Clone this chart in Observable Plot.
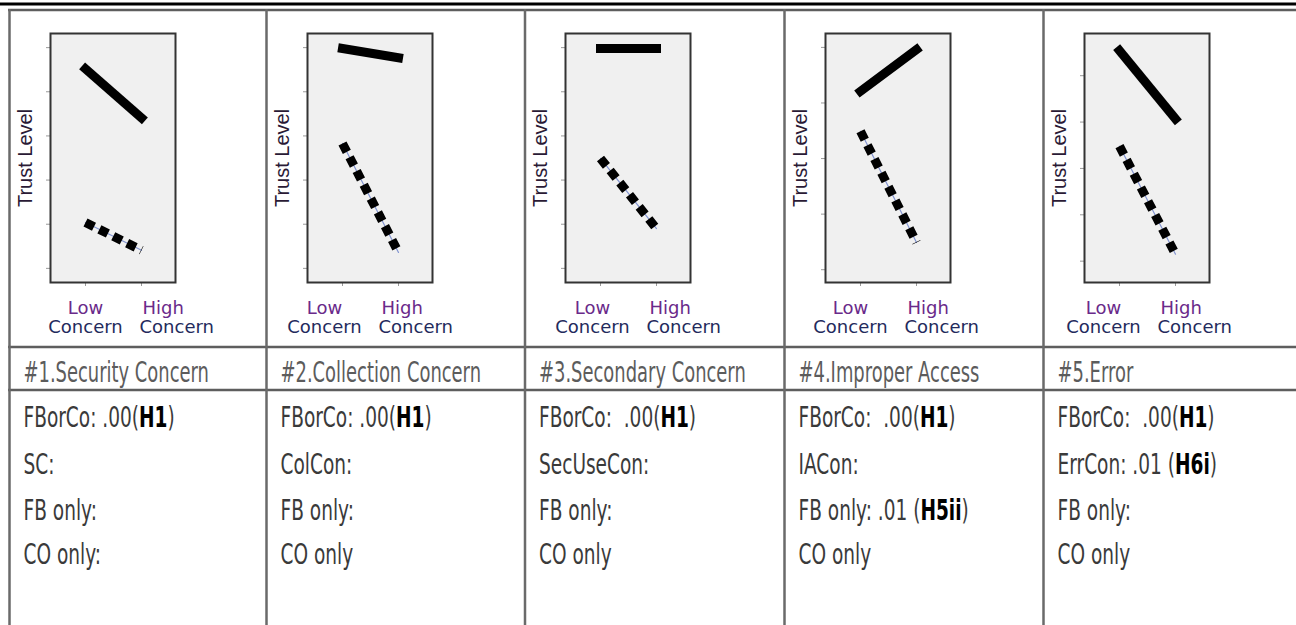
<!DOCTYPE html>
<html>
<head>
<meta charset="utf-8">
<script src="https://cdn.jsdelivr.net/npm/d3@7"></script>
<script src="https://cdn.jsdelivr.net/npm/@observablehq/plot@0.6"></script>
<style>
  body { margin: 0; background: #fff; }
  #wrap { position: relative; width: 1296px; height: 625px; overflow: hidden; background: #fff; }
  #wrap svg.panel { position: absolute; }
</style>
</head>
<body>
<div id="wrap"></div>
<script>
// ---------- data ----------
const concernLevels = ["Low", "High"];
const levelLabels = ["Low", "High"];
const levelSubLabel = "Concern";
const yLabel = "Trust Level";

const panelTitles = [
  "#1.Security Concern",
  "#2.Collection Concern",
  "#3.Secondary Concern",
  "#4.Improper Access",
  "#5.Error"
];

// trust level at Low / High concern (solid = upper line, dashed = lower line)
const solidLow   = [5.52, 5.98, 5.98, 4.21, 5.54];
const solidHigh  = [4.41, 5.77, 5.98, 4.96, 4.07];
const dashedLow  = [2.04, 3.83, 3.49, 3.49, 3.48];
const dashedHigh = [1.41, 1.36, 1.90, 1.49, 1.15];

// y axis tick values per panel (labels unreadable in source)
const yTickValues = [
  [1, 2, 3, 4, 5, 6],
  [1, 2, 3, 4, 5, 6],
  [1, 2, 3, 4, 5, 6],
  [1, 2, 3, 4, 5],
  [1, 2, 3, 4, 5]
];
const yDomains = [
  [0.68, 6.32],
  [0.68, 6.32],
  [0.68, 6.32],
  [0.77, 5.25],
  [0.54, 5.91]
];

const statRows1 = ["FBorCo: .00(H1)",  "SC:",        "FB only:",            "CO only:"];
const statRows2 = ["FBorCo: .00(H1)",  "ColCon:",    "FB only:",            "CO only"];
const statRows3 = ["FBorCo:  .00(H1)", "SecUseCon:", "FB only:",            "CO only"];
const statRows4 = ["FBorCo:  .00(H1)", "IACon:",     "FB only: .01 (H5ii)", "CO only"];
const statRows5 = ["FBorCo:  .00(H1)", "ErrCon: .01 (H6i)", "FB only:",     "CO only"];
const statRows = [statRows1, statRows2, statRows3, statRows4, statRows5];

// ---------- layout (not data) ----------
const W = 1296, H = 625;
const colLeft = [9.5, 266.5, 525, 784.5, 1043.5];
const labelShift = [0, -18, -8, -10, -16];

const wrap = d3.select("#wrap");

// table grid + text overlay
const ov = wrap.append("svg")
  .attr("width", W).attr("height", H)
  .style("position", "absolute").style("left", 0).style("top", 0);

ov.append("line").attr("x1", 0).attr("x2", W).attr("y1", 4).attr("y2", 4)
  .attr("stroke", "#000").attr("stroke-width", 3);
[10, 347, 390].forEach(y => {
  ov.append("line").attr("x1", 8).attr("x2", W).attr("y1", y).attr("y2", y)
    .attr("stroke", "#5e5e5e").attr("stroke-width", 2.5);
});
colLeft.forEach(x => {
  ov.append("line").attr("x1", x).attr("x2", x).attr("y1", 9).attr("y2", H)
    .attr("stroke", "#6a6a6a").attr("stroke-width", 2.5);
});

function addText(x, y, str, size, fill, sx) {
  const t = ov.append("text")
    .attr("transform", `translate(${x},${y}) scale(${sx},1)`)
    .attr("font-size", size)
    .attr("font-family", "'DejaVu Sans', sans-serif")
    .attr("fill", fill)
    .style("white-space", "pre");
  str.split(/(H\d+i*)/).forEach(p => {
    if (!p) return;
    const ts = t.append("tspan").text(p);
    if (/^H\d/.test(p)) ts.attr("font-weight", "bold").attr("fill", "#000");
  });
}

panelTitles.forEach((title, i) => {
  addText(colLeft[i] + 14, 382, title, 28, "#5c5c5c", 0.64);
  statRows[i].forEach((row, r) => {
    addText(colLeft[i] + 14, [427, 474, 520, 564][r], row, 29, "#3a3a3a", 0.64);
  });
});

// ---------- panels drawn with Plot ----------
function panel(i) {
  const solid = concernLevels.map((lv, k) => ({level: lv, trust: k === 0 ? solidLow[i] : solidHigh[i]}));
  const dashed = concernLevels.map((lv, k) => ({level: lv, trust: k === 0 ? dashedLow[i] : dashedHigh[i]}));
  const svgW = 252, svgH = 334;
  const labFont = "'DejaVu Sans', sans-serif";
  const chart = Plot.plot({
    width: svgW, height: svgH,
    marginLeft: 38, marginRight: svgW - 38 - 125, marginTop: 21, marginBottom: 64,
    x: {type: "point", domain: concernLevels, padding: 0.6, axis: null},
    y: {domain: yDomains[i], axis: null},
    style: {background: "transparent", overflow: "visible"},
    marks: [
      Plot.frame({fill: "#f0f0f0", stroke: "none"}),
      Plot.axisY({ticks: yTickValues[i], tickSize: 4, tickFormat: () => "", stroke: "#999", label: null}),
      Plot.axisX({tickSize: 4, tickFormat: () => "", stroke: "#999", label: null}),
      Plot.frame({stroke: "#333", strokeWidth: 2}),
      Plot.line(dashed, {x: "level", y: "trust", stroke: "#8294d0", strokeWidth: 1.2}),
      Plot.line(dashed, {x: "level", y: "trust", stroke: "#000", strokeWidth: 9,
        strokeDasharray: "9.5,6", strokeLinecap: "butt", strokeLinejoin: "miter"}),
      Plot.line(solid, {x: "level", y: "trust", stroke: "#000", strokeWidth: 9,
        strokeLinecap: "square", strokeLinejoin: "miter"}),
      Plot.text([yLabel], {frameAnchor: "left", textAnchor: "middle", rotate: -90, dx: -25, fontSize: 20,
        fill: "#2a1a35", fontFamily: "'Liberation Sans', Arial, sans-serif"}),
      Plot.text([concernLevels[0]], {x: d => d, text: () => levelLabels[0], frameAnchor: "bottom", dy: 31,
        dx: labelShift[i], textAnchor: "middle", fontSize: 18, fill: "#6a2a8a",
        fontFamily: labFont, ariaLabel: "xlab"}),
      Plot.text([concernLevels[1]], {x: d => d, text: () => levelLabels[1], frameAnchor: "bottom", dy: 31,
        dx: labelShift[i] + 1, textAnchor: "start", fontSize: 18, fill: "#6a2a8a",
        fontFamily: labFont, ariaLabel: "xlab"}),
      Plot.text([concernLevels[0]], {x: d => d, text: () => levelSubLabel, frameAnchor: "bottom", dy: 50,
        dx: labelShift[i], textAnchor: "middle", fontSize: 18, fill: "#242a5c",
        fontFamily: labFont, ariaLabel: "xlab"}),
      Plot.text([concernLevels[1]], {x: d => d, text: () => levelSubLabel, frameAnchor: "bottom", dy: 50,
        dx: labelShift[i] - 2, textAnchor: "start", fontSize: 18, fill: "#242a5c",
        fontFamily: labFont, ariaLabel: "xlab"})
    ]
  });
  d3.select(chart).classed("panel", true)
    .style("left", (colLeft[i] + 2) + "px").style("top", "12px");
  d3.select(chart).selectAll('g[aria-label="xlab"] text').style("letter-spacing", "1.6px");
  wrap.node().appendChild(chart);
}
for (let i = 0; i < 5; i++) panel(i);
</script>
</body>
</html>
